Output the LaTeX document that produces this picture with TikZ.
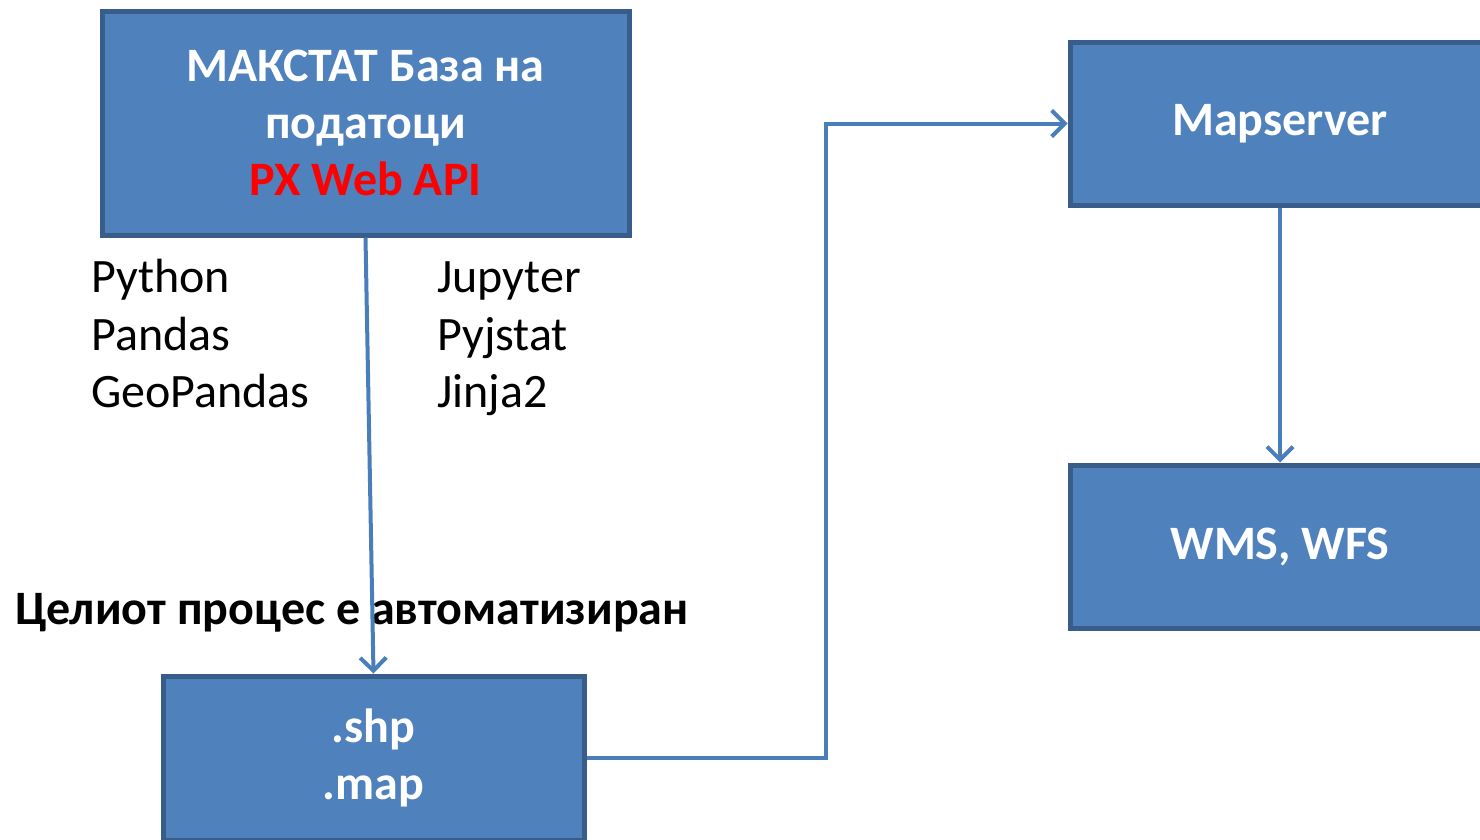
\documentclass[tikz,border=0pt]{standalone}
\usepackage{fontspec}
\setmainfont{Carlito}
\usetikzlibrary{arrows.meta,positioning}

\definecolor{boxfill}{HTML}{4F81BD}
\definecolor{boxline}{HTML}{385D8A}
\definecolor{linkblue}{HTML}{4A7EBB}
\definecolor{apired}{HTML}{FF0000}

\tikzset{
    block/.style={rectangle, draw=boxline, line width=5pt, fill=boxfill, text=white,
        font=\bfseries\fontsize{48}{57}\selectfont, align=center, inner sep=0pt},
    link/.style={draw=linkblue, line width=4pt, -{Straight Barb[length=13pt, width=26pt]}},
    tool/.style={anchor=base west, inner sep=0pt, font=\fontsize{48}{58}\selectfont}
}

\begin{document}
\begin{tikzpicture}[x=1pt, y=-1pt]
    \useasboundingbox (0,0) rectangle (1480,839);

    % Nodes
    \node[block, minimum width=527pt, minimum height=224pt] (Database) at (365.5,123) {МАКСТАТ База на\\податоци\\\textcolor{apired}{PX Web API}};
    \node[block, minimum width=420pt, minimum height=163pt] (Mapserver) at (1280,123.5) {Mapserver};
    \node[block, minimum width=420pt, minimum height=163pt] (Services) at (1280,546.5) {WMS, WFS};
    \node[block, minimum width=421pt, minimum height=164pt] (Files) at (373.5,758) {.shp\\.map};

    % Tools
    \node[tool] (Python) at (91,292) {Python};
    \node[tool] (Pandas) at (91,350) {Pandas};
    \node[tool] (GeoPandas) at (91,407) {GeoPandas};
    \node[tool] (Jupyter) at (437,292) {Jupyter};
    \node[tool] (Pyjstat) at (437,350) {Pyjstat};
    \node[tool] (Jinja) at (437,407) {Jinja2};
    \node[tool, font=\bfseries\fontsize{48}{58}\selectfont] (Automated) at (15,624) {Целиот процес е автоматизиран};

    % Edges
    \coordinate (Turn) at (826,440);
    \draw[link] (Database.south) -- (Files.north);
    \draw[link] (Files.east) -| (Turn |- Mapserver.west) -- (Mapserver.west);
    \draw[link] (Mapserver.south) -- (Services.north);
\end{tikzpicture}
\end{document}
